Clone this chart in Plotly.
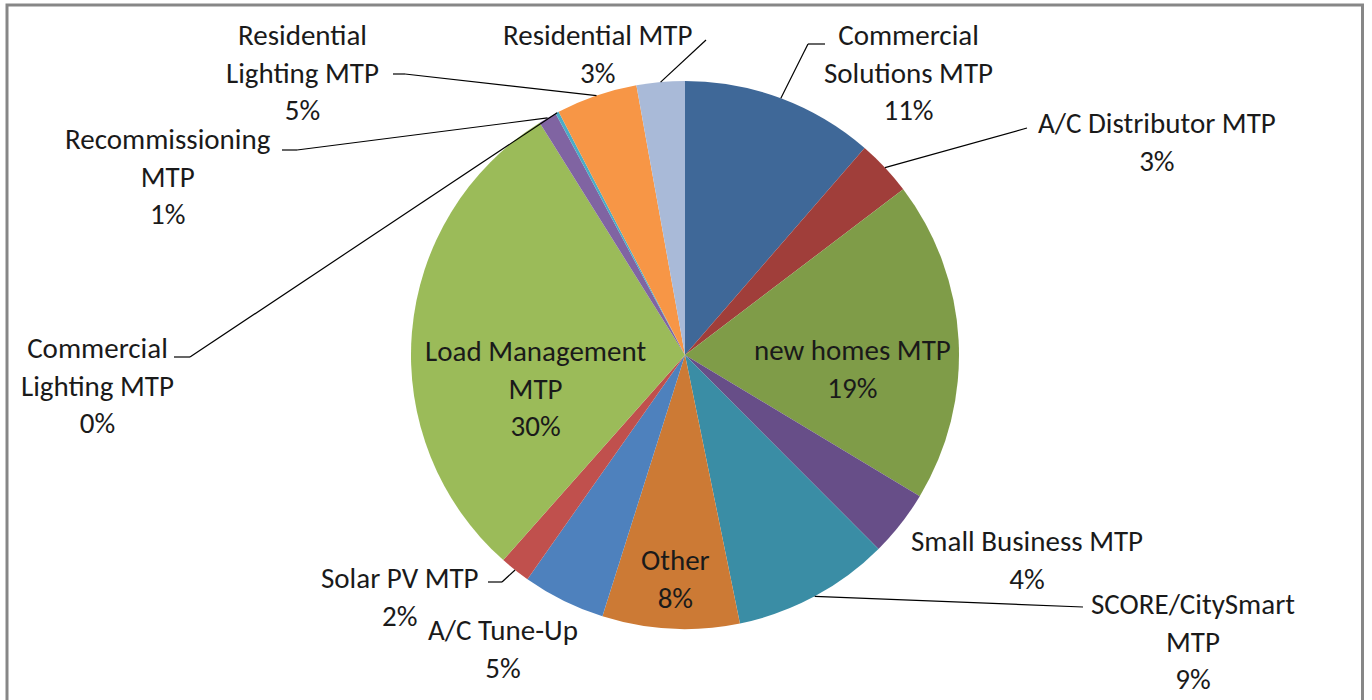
import math
import plotly.graph_objects as go

# ---- data ----
categories = [
    "Commercial Solutions MTP", "A/C Distributor MTP", "new homes MTP",
    "Small Business MTP", "SCORE/CitySmart MTP", "Other", "A/C Tune-Up",
    "Solar PV MTP", "Load Management MTP", "Recommissioning MTP",
    "Commercial Lighting MTP", "Residential Lighting MTP", "Residential MTP",
]
values = [11.38, 3.29, 18.96, 3.90, 9.27, 8.09, 4.88, 1.79, 29.57, 1.07, 0.20, 4.79, 2.84]
label_text = {
    "Commercial Solutions MTP": "Commercial<br>Solutions MTP",
    "A/C Distributor MTP": "A/C Distributor MTP",
    "new homes MTP": "new homes MTP",
    "Small Business MTP": "Small Business MTP",
    "SCORE/CitySmart MTP": "SCORE/CitySmart<br>MTP",
    "Other": "Other",
    "A/C Tune-Up": "A/C Tune-Up",
    "Solar PV MTP": "Solar PV MTP",
    "Load Management MTP": "Load Management<br>MTP",
    "Recommissioning MTP": "Recommissioning<br>MTP",
    "Commercial Lighting MTP": "Commercial<br>Lighting MTP",
    "Residential Lighting MTP": "Residential<br>Lighting MTP",
    "Residential MTP": "Residential MTP",
}
colors = ["#3F6898", "#A03E3A", "#7F9C48", "#674E88", "#3A8DA5", "#CC7A35", "#4E81BD",
          "#C0504D", "#9BBB59", "#8064A2", "#4BACC6", "#F79646", "#A9BAD8"]

# ---- layout constants (pixels) ----
W, H = 1372, 700
CX, CY, R = 685, 355, 274
FONT = "Carlito, Lato, Calibri, sans-serif"
FS = 29

def px(x):
    return x / W

def py(y):
    return 1 - y / H

# label block centres (pixels) and leader line knees
label_pos = {
    "Commercial Solutions MTP": (908, 72),
    "A/C Distributor MTP": (1157, 142),
    "new homes MTP": (852, 369),
    "Small Business MTP": (1027, 560),
    "SCORE/CitySmart MTP": (1193, 641),
    "Other": (675, 579),
    "A/C Tune-Up": (503, 649),
    "Solar PV MTP": (400, 597),
    "Load Management MTP": (535, 388),
    "Recommissioning MTP": (168, 176),
    "Commercial Lighting MTP": (97, 385),
    "Residential Lighting MTP": (302, 72),
    "Residential MTP": (597, 54),
}
leaders = {
    "Commercial Solutions MTP": [(825, 44), (808, 44)],
    "A/C Distributor MTP": [(1027, 128)],
    "SCORE/CitySmart MTP": [(1083, 607)],
    "Solar PV MTP": [(488, 582), (502, 582)],
    "Recommissioning MTP": [(282, 150), (297, 150)],
    "Commercial Lighting MTP": [(174, 357), (190, 357)],
    "Residential Lighting MTP": [(393, 74), (405, 74)],
    "Residential MTP": [(706, 40)],
}

fig = go.Figure(go.Pie(
    labels=categories,
    values=values,
    sort=False,
    direction="clockwise",
    rotation=0,
    marker=dict(colors=colors, line=dict(width=0)),
    textinfo="none",
    hoverinfo="label+percent",
    showlegend=False,
    domain=dict(x=[px(CX - R), px(CX + R)], y=[py(CY + R), py(CY - R)]),
))

total = sum(values)
cum = 0.0
annotations = []
shapes = []
for cat, v in zip(categories, values):
    mid = (cum + v / 2) / total * 2 * math.pi
    cum += v
    pct = round(v / total * 100)
    lx, ly = label_pos[cat]
    annotations.append(dict(
        x=px(lx), y=py(ly), xref="paper", yref="paper",
        text=f"{label_text[cat]}<br>{pct}%", showarrow=False,
        xanchor="center", yanchor="middle", align="center",
        font=dict(family=FONT, size=FS, color="#1a1a1a"),
    ))
    if cat in leaders:
        ex = CX + R * math.sin(mid)
        ey = CY - R * math.cos(mid)
        pts = leaders[cat] + [(ex, ey)]
        for (x0, y0), (x1, y1) in zip(pts[:-1], pts[1:]):
            shapes.append(dict(type="line", xref="paper", yref="paper",
                               x0=px(x0), y0=py(y0), x1=px(x1), y1=py(y1),
                               line=dict(color="#000000", width=1.2)))

# chart frame
shapes.append(dict(type="rect", xref="paper", yref="paper",
                   x0=px(7), x1=px(1362.5), y0=py(712), y1=py(5),
                   line=dict(color="#878787", width=3), layer="above"))

fig.update_layout(
    width=W, height=H,
    margin=dict(l=0, r=0, t=0, b=0),
    paper_bgcolor="white", plot_bgcolor="white",
    annotations=annotations, shapes=shapes,
)

fig.write_html("out.html", config={"displayModeBar": False},
               post_script="document.body.style.margin='0';document.body.style.overflow='hidden';")
